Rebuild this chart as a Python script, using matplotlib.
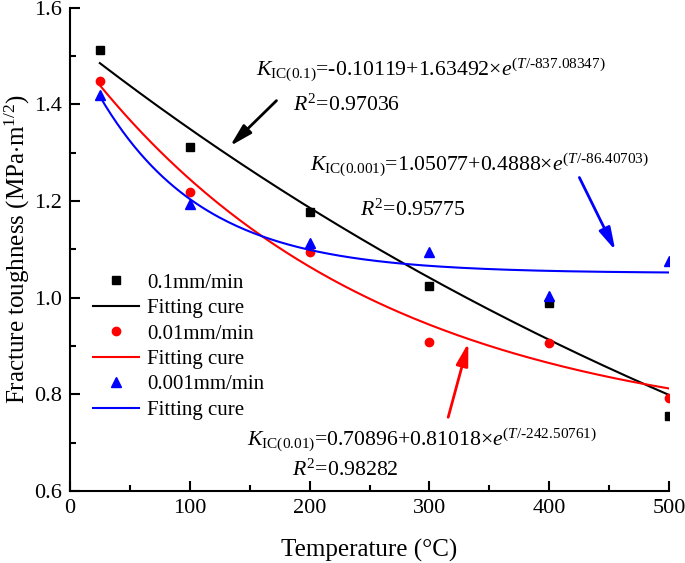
import numpy as np
import matplotlib
matplotlib.use('Agg')
import matplotlib.pyplot as plt

plt.rcParams['font.family'] = ['Liberation Serif', 'DejaVu Serif']
plt.rcParams['mathtext.fontset'] = 'custom'
plt.rcParams['mathtext.rm'] = 'Liberation Serif'
plt.rcParams['mathtext.it'] = 'Liberation Serif:italic'
plt.rcParams['mathtext.bf'] = 'Liberation Serif:bold'

# measured points
temps = [25, 100, 200, 300, 400, 500]
k_01 = [1.513, 1.312, 1.178, 1.024, 0.990, 0.756]
k_001 = [1.449, 1.219, 1.095, 0.908, 0.906, 0.793]
k_0001 = [1.420, 1.193, 1.113, 1.095, 1.003, 1.075]

# fit parameters y0 + A*exp(T/t)  (from the equations shown on the chart)
fit_01 = [-0.10119, 1.63492, -837.08347]
fit_001 = [0.70896, 0.81018, -242.50761]
fit_0001 = [1.05077, 0.4888, -86.40703]

x_ticks = [0, 100, 200, 300, 400, 500]
y_ticks = [0.6, 0.8, 1.0, 1.2, 1.4, 1.6]

fig = plt.figure(figsize=(6.85, 5.63), dpi=100)
ax = fig.add_axes([0.102, 0.128, 0.875, 0.858])

tt = np.linspace(temps[0], temps[-1], 200)


def fit_curve(p):
    return p[0] + p[1] * np.exp(tt / p[2])


ax.plot(temps, k_01, 's', color='black', markersize=5.5, label='0.1mm/min')
ax.plot(tt, fit_curve(fit_01), '-', color='black', lw=1.5, label='Fitting cure')
ax.plot(temps, k_001, 'o', color='#ff0000', markersize=6, label='0.01mm/min')
ax.plot(tt, fit_curve(fit_001), '-', color='#ff0000', lw=1.5, label='Fitting cure')
ax.plot(temps, k_0001, '^', color='#0000ff', markersize=6.5, label='0.001mm/min')
ax.plot(tt, fit_curve(fit_0001), '-', color='#0000ff', lw=1.5, label='Fitting cure')

ax.set_xlim(0, 500)
ax.set_ylim(0.6, 1.6)
ax.set_xticks(x_ticks)
ax.set_yticks(y_ticks)
ax.set_xticks([50, 150, 250, 350, 450], minor=True)
ax.set_yticks([0.7, 0.9, 1.1, 1.3, 1.5], minor=True)
ax.yaxis.set_major_formatter(matplotlib.ticker.FormatStrFormatter('%.1f'))
ax.tick_params(which='major', direction='in', length=7, width=1.5, labelsize=16, pad=6)
ax.tick_params(which='minor', direction='in', length=4, width=1.5)
for s in ['top', 'right']:
    ax.spines[s].set_visible(False)
for s in ['left', 'bottom']:
    ax.spines[s].set_linewidth(1.5)

ax.set_xlabel('Temperature (\u00b0C)', fontsize=18, labelpad=15)
ax.set_ylabel(r'Fracture toughness (MPa$\cdot$m$^{1/2}$)', fontsize=18, labelpad=1)

eq_fs = 15.7
ax.text(155, 1.471, r'$K_{\mathrm{IC(0.1)}}$=-0.10119+1.63492$\times e^{(T/\text{-}837.08347)}$',
        fontsize=eq_fs, ha='left', va='center')
ax.text(186, 1.398, r'$R^2$=0.97036', fontsize=eq_fs, ha='left', va='center')
ax.text(200, 1.275, r'$K_{\mathrm{IC(0.001)}}$=1.05077+0.4888$\times e^{(T/\text{-}86.40703)}$',
        fontsize=eq_fs, ha='left', va='center')
ax.text(242, 1.182, r'$R^2$=0.95775', fontsize=eq_fs, ha='left', va='center')
ax.text(148, 0.705, r'$K_{\mathrm{IC(0.01)}}$=0.70896+0.81018$\times e^{(T/\text{-}242.50761)}$',
        fontsize=eq_fs, ha='left', va='center')
ax.text(185, 0.643, r'$R^2$=0.98282', fontsize=eq_fs, ha='left', va='center')

head = '-|>,head_length=0.75,head_width=0.2'
ax.annotate('', xy=(132, 1.310), xytext=(174, 1.412),
            arrowprops=dict(arrowstyle=head, color='black', lw=2, mutation_scale=18))
ax.annotate('', xy=(456, 1.093), xytext=(424, 1.254),
            arrowprops=dict(arrowstyle=head, color='#0000ff', lw=2, mutation_scale=18))
ax.annotate('', xy=(333, 0.912), xytext=(315, 0.747),
            arrowprops=dict(arrowstyle=head, color='#ff0000', lw=2, mutation_scale=18))

ax.legend(loc='upper left', bbox_to_anchor=(0.025, 0.468), frameon=False, fontsize=15,
          handlelength=2.2, handletextpad=0.4, labelspacing=0.28, borderaxespad=0)

fig.savefig('out.png', dpi=100)
